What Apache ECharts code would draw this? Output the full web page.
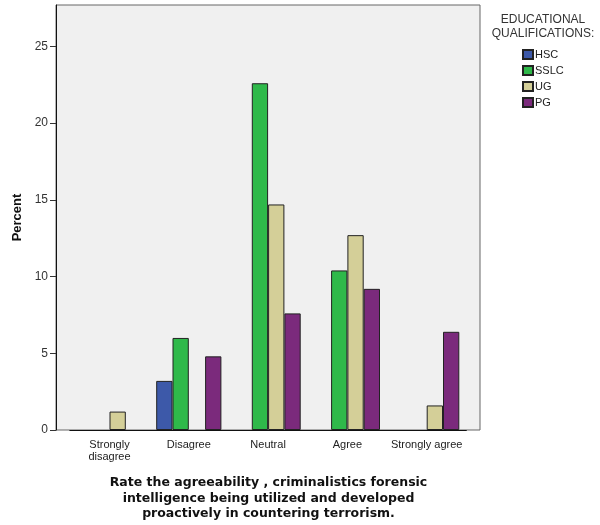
<!DOCTYPE html>
<html>
<head>
<meta charset="utf-8">
<script src="https://cdn.jsdelivr.net/npm/echarts@6/dist/echarts.min.js"></script>
<style>html,body{margin:0;padding:0;background:#fff;}#c{width:600px;height:525px;}</style>
</head>
<body>
<div id="c"></div>
<script>
var categories = ['Strongly\ndisagree', 'Disagree', 'Neutral', 'Agree', 'Strongly agree'];
var seriesNames = ['HSC', 'SSLC', 'UG', 'PG'];
var hscValues = [null, 3.2, null, null, null];
var sslcValues = [null, 6.0, 22.6, 10.4, null];
var ugValues = [1.2, null, 14.7, 12.7, 1.6];
var pgValues = [null, 4.8, 7.6, 9.2, 6.4];
var yTicks = [0, 5, 10, 15, 20, 25];
var colors = ['#3d59a9', '#2fb94a', '#d4cf98', '#7b2a7c'];

var FONT = 'Arial, "Liberation Sans", sans-serif';
var TITLE_FONT = '"DejaVu Sans", Verdana, sans-serif';
var values = [hscValues, sslcValues, ugValues, pgValues];
var series = seriesNames.map(function (n, i) {
  return {
    name: n, type: 'bar', xAxisIndex: 1, yAxisIndex: 1,
    data: values[i], barWidth: 16.3, barGap: '0%',
    itemStyle: { color: colors[i], borderColor: '#222', borderWidth: 1 },
    emphasis: { disabled: true }
  };
});

var chart = echarts.init(document.getElementById('c'), null, { renderer: 'canvas' });
chart.setOption({
  animation: false,
  textStyle: { fontFamily: FONT },
  grid: [
    { left: 56, top: 5, width: 424, height: 425, show: true, backgroundColor: '#f0f0f0', borderColor: '#666', borderWidth: 1, containLabel: false, outerBoundsMode: 'none' },
    { left: 69.85, top: 5, width: 396.5, height: 425, containLabel: false, outerBoundsMode: 'none' }
  ],
  xAxis: [
    { type: 'category', gridIndex: 0, data: [''], show: false },
    { type: 'category', gridIndex: 1, data: categories,
      axisLine: { lineStyle: { color: '#111', width: 1 } },
      axisTick: { alignWithLabel: true, length: 6, lineStyle: { color: '#111' } },
      axisLabel: { fontSize: 11, color: '#222', margin: 9, lineHeight: 12, fontFamily: FONT, interval: 0 } }
  ],
  yAxis: [
    { type: 'value', gridIndex: 0, min: 0, max: 27.7, interval: 5,
      splitLine: { show: false },
      axisLine: { show: true, lineStyle: { color: '#111' } },
      axisTick: { show: true, length: 6, lineStyle: { color: '#333' }, customValues: yTicks },
      axisLabel: { fontSize: 12, color: '#333', margin: 8, fontFamily: FONT, customValues: yTicks },
      name: 'Percent', nameLocation: 'middle', nameRotate: 90, nameGap: 28,
      nameTextStyle: { fontSize: 13, fontWeight: 'bold', color: '#111', fontFamily: FONT } },
    { type: 'value', gridIndex: 1, min: 0, max: 27.7, interval: 5, show: false, splitLine: { show: false } }
  ],
  legend: {
    data: seriesNames, orient: 'vertical', left: 522, top: 49, itemWidth: 10, itemHeight: 9, itemGap: 5,
    padding: 0, icon: 'rect', selectedMode: false,
    textStyle: { fontSize: 11, color: '#222', fontFamily: FONT, padding: [0, 0, 0, -3] }
  },
  graphic: [
    { type: 'text', style: { text: 'EDUCATIONAL\nQUALIFICATIONS:', x: 543, y: 13, textAlign: 'center', fontSize: 12, lineHeight: 14, fill: '#333', fontFamily: FONT } },
    { type: 'text', style: { text: 'Rate the agreeability , criminalistics forensic\nintelligence being utilized and developed\nproactively in countering terrorism.', x: 268.5, y: 475.5, textAlign: 'center', fontSize: 12.5, fontWeight: 'bold', lineHeight: 15.3, fill: '#111', fontFamily: TITLE_FONT } }
  ],
  series: series
});
</script>
</body>
</html>
